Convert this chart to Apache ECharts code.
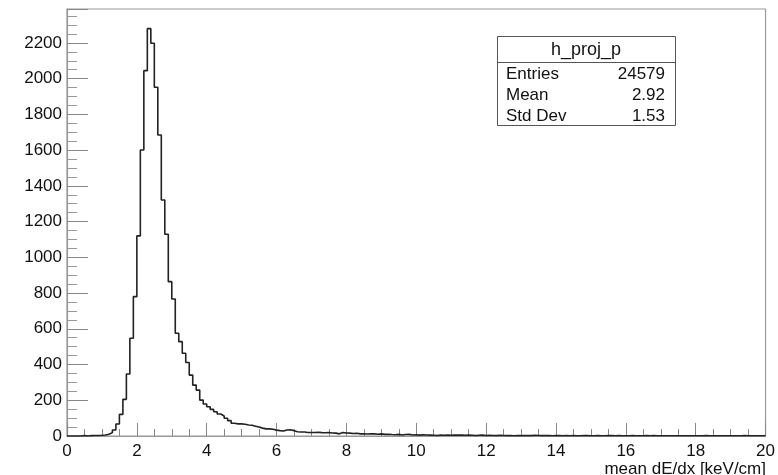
<!DOCTYPE html>
<html>
<head>
<meta charset="utf-8">
<script src="https://cdn.jsdelivr.net/npm/echarts@6/dist/echarts.min.js"></script>
<style>
html,body{margin:0;padding:0;background:#fff;}
#chart{width:778px;height:475px;}
</style>
</head>
<body>
<div id="chart"></div>
<script>
// Histogram h_proj_p : 200 bins from 0 to 20
var xMin = 0, xMax = 20, binWidth = 0.1;
var counts = [
  0,0,0,0,3,0,2,3,3,4,
  6,10,19,34,67,121,205,347,547,780,
  1120,1601,2045,2280,2198,1952,1685,1321,1129,864,
  767,575,528,463,411,341,285,257,201,179,
  164,149,136,123,112,99,86,71,68,68,
  66,62,60,55,50,44,40,40,38,33,
  30,28,34,35,30,24,22,22,20,20,
  20,21,19,18,20,17,16,12,19,17,
  16,14,15,12,13,11,13,12,10,12,
  9,10,8,7,9,6,8,9,6,7,
  5,7,6,5,4,3,5,4,6,4,
  5,6,5,4,5,4,3,4,5,3,
  4,3,2,4,3,2,3,1,2,3,
  2,3,2,4,3,2,3,2,1,2,
  2,1,2,1,2,1,1,2,3,1,
  1,2,1,1,2,2,1,2,1,1,
  1,2,1,1,1,2,1,2,1,1,
  1,1,1,1,1,1,1,1,1,1,
  1,1,2,1,1,1,1,1,1,1,
  1,1,1,2,1,1,1,1,1,1
];
var statTitle = "h_proj_p";
var statNames = ["Entries", "Mean", "Std Dev"];
var statValues = ["24579", "2.92", "1.53"];
var xTitle = "mean dE/dx [keV/cm]";
var yMax = 2390;

// build step outline points (left edge of each bin, plus closing right edge)
var stepData = [];
for (var i = 0; i < counts.length; i++) {
  stepData.push([+(xMin + i * binWidth).toFixed(4), counts[i]]);
}
stepData.push([xMax, counts[counts.length - 1]]);

var chart = echarts.init(document.getElementById('chart'), null, {renderer: 'canvas'});
var FONT = 'Liberation Sans';
var statGraphics = [
  {type: 'rect', shape: {x: 497.5, y: 36.5, width: 178, height: 89},
   style: {fill: '#fff', stroke: '#555', lineWidth: 1}, z: 100},
  {type: 'line', shape: {x1: 497.5, y1: 62.5, x2: 675.5, y2: 62.5},
   style: {stroke: '#555', lineWidth: 1}, z: 101},
  {type: 'text', x: 586, y: 50, z: 102,
   style: {text: statTitle, font: '18px "' + FONT + '"', fill: '#111', align: 'center', verticalAlign: 'middle'}}
];
for (var k = 0; k < statNames.length; k++) {
  var yy = 74 + k * 21;
  statGraphics.push({type: 'text', x: 506, y: yy, z: 102,
    style: {text: statNames[k], font: '17px "' + FONT + '"', fill: '#111', align: 'left', verticalAlign: 'middle'}});
  statGraphics.push({type: 'text', x: 665, y: yy, z: 102,
    style: {text: statValues[k], font: '17px "' + FONT + '"', fill: '#111', align: 'right', verticalAlign: 'middle'}});
}
statGraphics.push({type: 'text', x: 766, y: 469, z: 102,
  style: {text: xTitle, font: '17px "' + FONT + '"', fill: '#111', align: 'right', verticalAlign: 'middle'}});

function plain(v) { return String(v); }

chart.setOption({
  animation: false,
  backgroundColor: '#fff',
  grid: {left: 67, right: 12, top: 9, bottom: 39, show: true, borderColor: '#999', borderWidth: 1.2, backgroundColor: 'transparent'},
  xAxis: {
    type: 'value', min: xMin, max: xMax, interval: 2,
    axisLine: {show: true, onZero: false, lineStyle: {color: '#999', width: 1.2}},
    axisTick: {show: true, inside: true, length: 13, lineStyle: {color: '#888'}},
    minorTick: {show: true, splitNumber: 4, length: 7, lineStyle: {color: '#888'}},
    splitLine: {show: false},
    axisLabel: {margin: 7, fontFamily: FONT, fontSize: 17, color: '#111', formatter: plain}
  },
  yAxis: {
    type: 'value', min: 0, max: yMax, interval: 200,
    axisLine: {show: true, lineStyle: {color: '#999', width: 1.2}},
    axisTick: {show: true, inside: true, length: 21, lineStyle: {color: '#888'}},
    minorTick: {show: true, splitNumber: 4, length: 10, lineStyle: {color: '#999'}},
    splitLine: {show: false},
    axisLabel: {margin: 5, fontFamily: FONT, fontSize: 17, color: '#111', showMaxLabel: false, formatter: plain}
  },
  series: [{
    type: 'line', step: 'end', data: stepData, showSymbol: false, symbol: 'none',
    lineStyle: {color: '#222', width: 1.6}, silent: true, z: 10
  }],
  graphic: statGraphics
});
</script>
</body>
</html>
